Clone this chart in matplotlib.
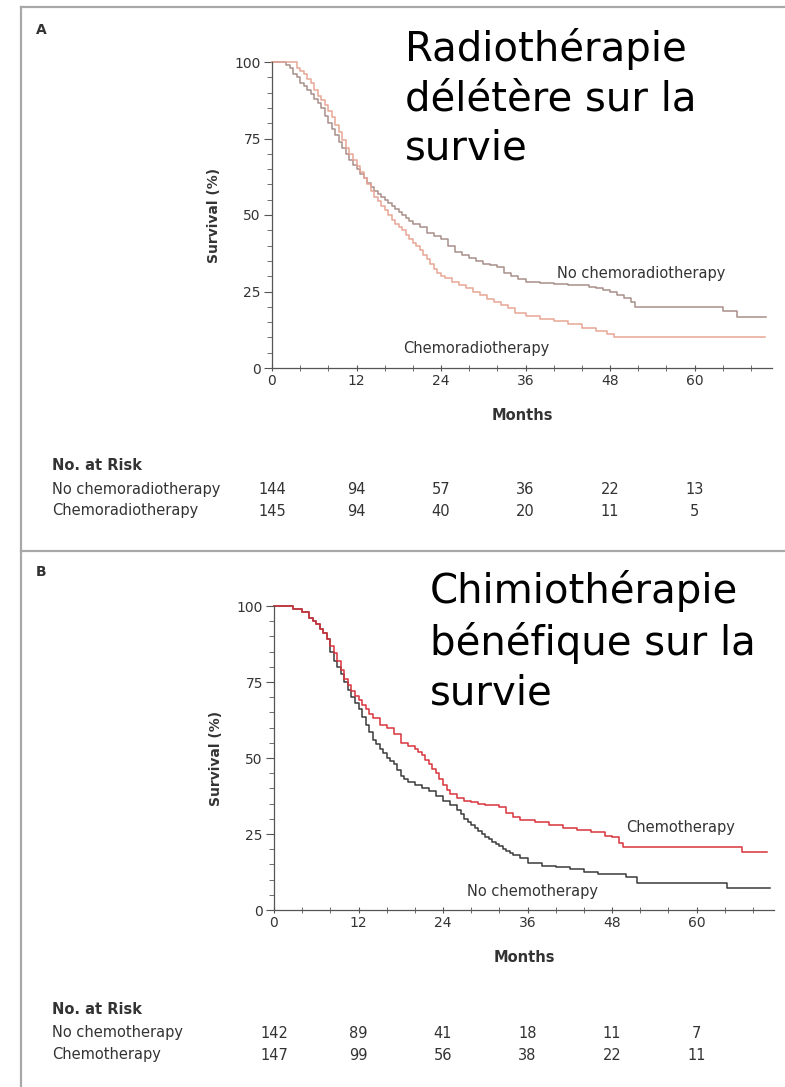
import matplotlib
matplotlib.use('Agg')
import matplotlib.pyplot as plt
from matplotlib.lines import Line2D
from matplotlib.ticker import MultipleLocator
from matplotlib.transforms import blended_transform_factory

W, H = 785, 1087

# Panel A: survival by chemoradiotherapy (Kaplan-Meier)
a_none_t = [0, 2, 2.5, 3, 3.5, 4, 4.5, 5, 5.5, 6, 6.5, 7, 7.5, 8, 8.5, 9, 9.5, 10, 10.5,
            11, 11.5, 12, 12.5, 13, 13.5, 14, 14.5, 15, 15.5, 16, 16.5, 17, 17.5, 18,
            18.5, 19, 19.5, 20, 21, 22, 23, 24, 25, 26, 27, 28, 29, 30, 31, 32, 33, 34,
            35, 36, 38, 40, 42, 44, 45, 46, 47, 48, 49, 50, 51, 51.5, 64, 66, 70.2]
a_none_s = [100, 99, 98, 96, 95, 93, 92, 91, 89.5, 88, 86.5, 85, 82.5, 80, 78, 76, 74, 72, 70,
            68, 66.5, 65, 63.5, 62, 60.5, 59, 58, 57, 56, 55, 54, 53, 52, 51,
            50, 49, 48, 47, 46, 44, 43, 42, 40, 38, 37, 36, 35, 34, 33.5, 33, 31, 30,
            29, 28, 27.8, 27.5, 27.2, 27, 26.5, 26, 25.5, 25, 24, 23, 21.5, 20, 18.5, 16.7, 16.7]
a_crt_t = [0, 3.5, 4, 4.5, 5, 5.5, 6, 6.5, 7, 7.5, 8, 8.5, 9, 9.5, 10, 10.5, 11, 11.5, 12,
           12.5, 13, 13.5, 14, 14.5, 15, 15.5, 16, 16.5, 17, 17.5, 18, 18.5, 19, 19.5, 20,
           20.5, 21, 21.5, 22, 22.5, 23, 23.5, 24, 24.5, 25.5, 26.5, 27.5, 28.5, 29.5,
           30.5, 31.5, 32.5, 33.5, 34.5, 36, 38, 40, 42, 44, 46, 47.5, 48.5, 70]
a_crt_s = [100, 98, 97, 96, 94.5, 93, 91, 89, 87.5, 86, 84, 82, 79.5, 77, 74.5, 72, 70, 68, 66,
           64, 62, 60, 58, 56, 54.5, 53, 51.5, 50, 48.5, 47, 46, 45, 43.5, 42, 41,
           40, 38.5, 37, 35.5, 34, 32.5, 31, 30, 29.5, 28, 27, 26, 25, 24,
           22.5, 21.5, 20.5, 19.5, 18, 17, 16, 15.5, 14.5, 13, 12, 11, 10, 10]

# Panel B: survival by chemotherapy
b_none_t = [0, 2.7, 4, 5, 5.5, 6, 6.5, 7, 7.5, 8, 8.5, 9, 9.5, 10, 10.5, 11, 11.5, 12, 12.5,
            13, 13.5, 14, 14.5, 15, 15.5, 16, 16.5, 17, 17.5, 18, 18.5, 19, 20, 21, 22, 23,
            24, 25, 26, 26.5, 27, 27.5, 28, 28.5, 29, 29.5, 30, 30.5, 31, 31.5, 32, 32.5,
            33, 33.5, 34, 35, 36, 38, 40, 42, 44, 46, 50, 51.5, 64.3, 70.5]
b_none_s = [100, 99, 98, 96, 95, 94, 92.5, 91, 89, 85, 82, 80, 77.5, 75, 72.5, 70, 68, 66, 63.5,
            61, 58.5, 56, 54.5, 53, 51.5, 50, 49, 48, 46, 44, 43, 42, 41, 40, 39, 37.5,
            36, 34.5, 33, 31.5, 30, 29, 28, 27, 26, 25, 24, 23.2, 22.5, 21.8, 21, 20.2,
            19.5, 18.7, 18, 17, 15.5, 14.5, 14, 13.5, 12.5, 12, 11, 9, 7.2, 7.2]
b_chemo_t = [0, 2.7, 4, 5, 5.5, 6, 6.5, 7, 7.5, 8, 8.5, 9, 9.5, 10, 10.5, 11, 11.5, 12, 12.5,
             13, 13.5, 14, 15, 16, 17, 18, 19, 20, 20.5, 21, 21.5, 22, 22.5, 23, 23.5, 24,
             24.5, 25, 26, 27, 28, 29, 30, 32, 33, 34, 35, 37, 39, 41, 43, 45, 47,
             48, 49, 49.5, 66.5, 70]
b_chemo_s = [100, 99, 98, 96, 95, 94, 92.5, 91, 89, 87, 84.5, 82, 79, 76, 74, 72, 70.5, 69, 67.5,
             66, 64.5, 63, 61, 60, 58, 55, 54, 53, 52, 51, 49.5, 48, 46.5, 45, 43, 41,
             39.5, 38, 37, 36, 35.5, 35, 34.5, 34, 32, 30.5, 29.5, 29, 28, 27, 26.3, 25.5, 24.5,
             24, 22, 20.7, 19, 19]

risk_months = [0, 12, 24, 36, 48, 60]
a_rows = ['No chemoradiotherapy', 'Chemoradiotherapy']
a_risk = [[144, 94, 57, 36, 22, 13], [145, 94, 40, 20, 11, 5]]
b_rows = ['No chemotherapy', 'Chemotherapy']
b_risk = [[142, 89, 41, 18, 11, 7], [147, 99, 56, 38, 22, 11]]

FONT = 'DejaVu Sans'
TXT = '#333333'
plt.rcParams['font.family'] = FONT

fig = plt.figure(figsize=(W / 100, H / 100), dpi=100)


def fy(py):
    return 1 - py / H


# frame lines
for xs, ys in [([21, 21], [7, H]), ([21, W], [7, 7]), ([21, W], [551, 551])]:
    fig.add_artist(Line2D([x / W for x in xs], [fy(y) for y in ys],
                          transform=fig.transFigure, color='#a8a8a8', lw=1.6))


def panel(letter, left, top, bottom, curves, labels, rows, risk, ytxt, note, note_xy):
    ax = fig.add_axes([left / W, fy(bottom), 500 / W, (bottom - top) / H])
    for (t, s, c) in curves:
        ax.step(t, s, where='post', color=c, lw=1.1, clip_on=False)
    ax.set_xlim(0, 71)
    ax.set_ylim(0, 100)
    for side in ['top', 'right']:
        ax.spines[side].set_visible(False)
    for side in ['left', 'bottom']:
        ax.spines[side].set_color('#555555')
        ax.spines[side].set_linewidth(0.9)
    ax.xaxis.set_major_locator(MultipleLocator(12))
    ax.xaxis.set_minor_locator(MultipleLocator(4))
    ax.yaxis.set_major_locator(MultipleLocator(25))
    ax.yaxis.set_minor_locator(MultipleLocator(5))
    ax.tick_params(axis='both', which='both', colors='#555555', labelcolor=TXT,
                   labelsize=10, pad=2)
    ax.tick_params(axis='y', which='major', length=6, direction='out')
    ax.tick_params(axis='y', which='minor', length=3.5, direction='out')
    ax.tick_params(axis='x', which='both', length=5, direction='inout')
    ax.set_xticks([0, 12, 24, 36, 48, 60])
    ax.set_ylabel('Survival (%)', fontsize=10, fontweight='bold', color=TXT, labelpad=10)
    ax.set_xlabel('Months', fontsize=10.5, fontweight='bold', color=TXT, labelpad=14)
    for (x, y, s) in labels:
        ax.text(x, y, s, fontsize=10.5, color=TXT, va='center', ha='left')
    fig.text(36 / W, fy(ytxt[0]), letter, fontsize=10, fontweight='bold', color=TXT,
             va='center', ha='left')
    fig.text(52 / W, fy(ytxt[1]), 'No. at Risk', fontsize=10.5, fontweight='bold',
             color=TXT, va='center', ha='left')
    tr = blended_transform_factory(ax.transData, fig.transFigure)
    for i, (name, vals) in enumerate(zip(rows, risk)):
        yy = fy(ytxt[2 + i])
        fig.text(52 / W, yy, name, fontsize=10.5, color=TXT, va='center', ha='left')
        for m, v in zip(risk_months, vals):
            ax.text(m, yy, str(v), transform=tr, fontsize=10.5, color=TXT,
                    va='center', ha='center')
    fig.text(note_xy[0] / W, fy(note_xy[1]), note, fontsize=29, color='black',
             va='top', ha='left', linespacing=1.3)
    return ax


panel('A', 272, 62, 368,
      [(a_none_t, a_none_s, '#a8908a'), (a_crt_t, a_crt_s, '#e8a596')],
      [(40.4, 31, 'No chemoradiotherapy'), (18.6, 6.5, 'Chemoradiotherapy')],
      a_rows, a_risk, [30, 465, 490, 511],
      'Radiothérapie\ndélétère sur la\nsurvie', (405, 28))

panel('B', 274, 606, 910,
      [(b_none_t, b_none_s, '#3a3a3a'), (b_chemo_t, b_chemo_s, '#d9343c')],
      [(50, 27, 'Chemotherapy'), (27.4, 6, 'No chemotherapy')],
      b_rows, b_risk, [572, 1009, 1033, 1055],
      'Chimiothérapie\nbénéfique sur la\nsurvie', (430, 570))

fig.savefig('out.png', dpi=100, facecolor='white')
